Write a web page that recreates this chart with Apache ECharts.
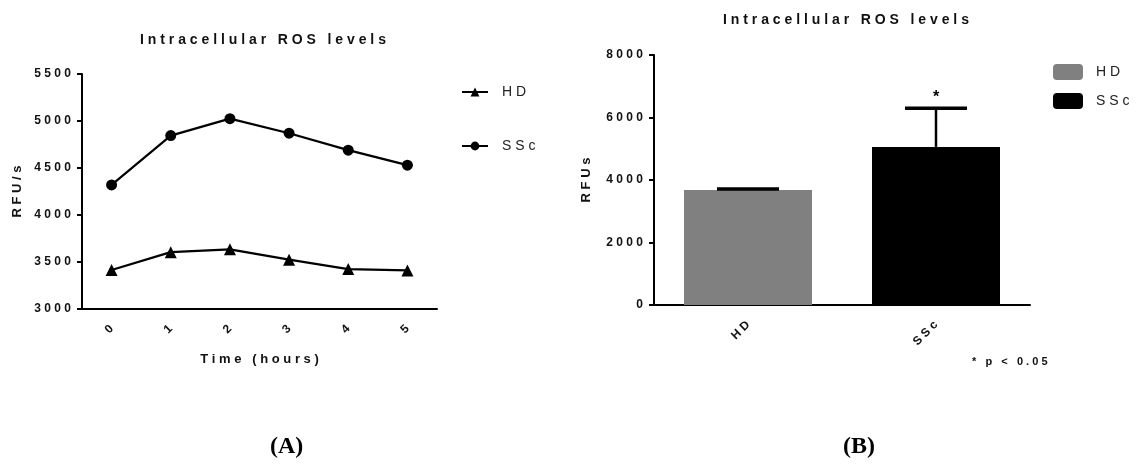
<!DOCTYPE html>
<html>
<head>
<meta charset="utf-8">
<script src="https://cdn.jsdelivr.net/npm/echarts@6/dist/echarts.min.js"></script>
<style>
  html, body { margin: 0; padding: 0; background: #fff; }
  #chart { width: 1139px; height: 464px; }
</style>
</head>
<body>
<div id="chart"></div>
<script>
// panel A: time course
const hours = ['0', '1', '2', '3', '4', '5'];
const hdLine = [3415, 3605, 3635, 3525, 3425, 3410];
const sscLine = [4320, 4845, 5025, 4870, 4690, 4530];

// panel B: bars with SD
const groups = ['HD', 'SSc'];
const barMeans = [3680, 5060];
const barErrors = [30, 1240];
const barSig = ['', '*'];

const FONT = 'Liberation Sans';
// the original uses wide letter spacing, fake it with spaces
const spaced = s => s.split('').join(' ');

const axisLine = { lineStyle: { color: '#000', width: 2 } };
const axisTick = { length: 5, lineStyle: { color: '#000', width: 2 } };
const tickLabel = { color: '#111', fontFamily: FONT, fontWeight: 'bold', fontSize: 12 };
const nameStyle = { fontFamily: FONT, fontWeight: 'bold', fontSize: 13, color: '#111' };
const titleStyle = { fontFamily: FONT, fontWeight: 'bold', fontSize: 14, color: '#111' };

const chart = echarts.init(document.getElementById('chart'));

chart.setOption({
    animation: false,
    title: [
        { text: spaced('Intracellular ROS levels'), left: 258, top: 28, textAlign: 'center', textStyle: titleStyle },
        { text: spaced('Intracellular ROS levels'), left: 841, top: 8, textAlign: 'center', textStyle: titleStyle }
    ],
    legend: [
        {
            data: ['HD', 'SSc'], left: 461, top: 85, orient: 'vertical', padding: 0,
            itemWidth: 26, itemHeight: 11, itemGap: 40,
            formatter: n => spaced(n),
            textStyle: { fontFamily: FONT, fontSize: 14, color: '#222', padding: [0, 0, 0, 9] }
        },
        {
            data: ['HD bars', 'SSc bars'], left: 1053, top: 64, orient: 'vertical', padding: 0,
            itemWidth: 30, itemHeight: 16, itemGap: 13,
            formatter: n => spaced(n.replace(' bars', '')),
            textStyle: { fontFamily: FONT, fontSize: 14, color: '#222', padding: [0, 0, 0, 8] }
        }
    ],
    grid: [
        { left: 82, top: 74, width: 355, height: 235 },
        { left: 654, top: 55, width: 376, height: 250 }
    ],
    xAxis: [
        {
            gridIndex: 0, type: 'category', data: hours, boundaryGap: true,
            name: spaced('Time (hours)'), nameLocation: 'middle', nameGap: 44, nameTextStyle: nameStyle,
            axisLine, axisTick: Object.assign({ alignWithLabel: true }, axisTick),
            axisLabel: Object.assign({ rotate: 45, margin: 18 }, tickLabel)
        },
        {
            gridIndex: 1, type: 'category', data: groups, boundaryGap: true,
            axisLine, axisTick: Object.assign({ alignWithLabel: true }, axisTick),
            axisLabel: Object.assign({ rotate: 45, margin: 18, formatter: v => spaced(v) }, tickLabel)
        }
    ],
    yAxis: [
        {
            gridIndex: 0, type: 'value', min: 3000, max: 5500, interval: 500,
            name: spaced('RFU/s'), nameLocation: 'middle', nameGap: 58, nameTextStyle: nameStyle,
            axisLine: Object.assign({ show: true }, axisLine), axisTick: Object.assign({ show: true }, axisTick),
            splitLine: { show: false },
            axisLabel: Object.assign({ margin: 11, formatter: v => spaced(String(v)) }, tickLabel)
        },
        {
            gridIndex: 1, type: 'value', min: 0, max: 8000, interval: 2000,
            name: spaced('RFUs'), nameLocation: 'middle', nameGap: 61, nameTextStyle: nameStyle,
            axisLine: Object.assign({ show: true }, axisLine), axisTick: Object.assign({ show: true }, axisTick),
            splitLine: { show: false },
            axisLabel: Object.assign({ margin: 11, formatter: v => spaced(String(v)) }, tickLabel)
        }
    ],
    series: [
        {
            name: 'HD', type: 'line', xAxisIndex: 0, yAxisIndex: 0, data: hdLine,
            symbol: 'triangle', symbolSize: 12,
            lineStyle: { color: '#000', width: 2.2 }, itemStyle: { color: '#000' }
        },
        {
            name: 'SSc', type: 'line', xAxisIndex: 0, yAxisIndex: 0, data: sscLine,
            symbol: 'circle', symbolSize: 11,
            lineStyle: { color: '#000', width: 2.2 }, itemStyle: { color: '#000' }
        },
        {
            name: 'HD bars', type: 'bar', xAxisIndex: 1, yAxisIndex: 1,
            data: barMeans.map((v, i) => i === 0 ? v : '-'),
            barWidth: 128, barGap: '-100%', itemStyle: { color: '#808080' }
        },
        {
            name: 'SSc bars', type: 'bar', xAxisIndex: 1, yAxisIndex: 1,
            data: barMeans.map((v, i) => i === 1 ? v : '-'),
            barWidth: 128, barGap: '-100%', itemStyle: { color: '#000' }
        },
        {
            // error bars + significance star
            type: 'custom', xAxisIndex: 1, yAxisIndex: 1, z: 5,
            data: barMeans.map((v, i) => [i, v, barErrors[i]]),
            renderItem: function (params, api) {
                const x = api.value(0), m = api.value(1), e = api.value(2);
                const base = api.coord([x, m]);
                const top = api.coord([x, m + e]);
                const children = [
                    { type: 'line', shape: { x1: base[0], y1: base[1], x2: top[0], y2: top[1] },
                      style: { stroke: '#000', lineWidth: 2.5 } },
                    { type: 'line', shape: { x1: top[0] - 31, y1: top[1], x2: top[0] + 31, y2: top[1] },
                      style: { stroke: '#000', lineWidth: 3.5 } }
                ];
                const s = barSig[params.dataIndex];
                if (s) {
                    children.push({ type: 'text', x: top[0], y: top[1] - 3,
                        style: { text: s, fill: '#000', font: 'bold 16px ' + FONT, align: 'center', verticalAlign: 'bottom' } });
                }
                return { type: 'group', children };
            }
        }
    ],
    graphic: [
        { type: 'text', left: 972, top: 356,
          style: { text: spaced('* p < 0.05'), fill: '#111', font: 'bold 11px ' + FONT } },
        { type: 'text', left: 270, top: 435,
          style: { text: '(A)', fill: '#000', font: 'bold 24px "Liberation Serif"' } },
        { type: 'text', left: 843, top: 435,
          style: { text: '(B)', fill: '#000', font: 'bold 24px "Liberation Serif"' } }
    ]
});
</script>
</body>
</html>
